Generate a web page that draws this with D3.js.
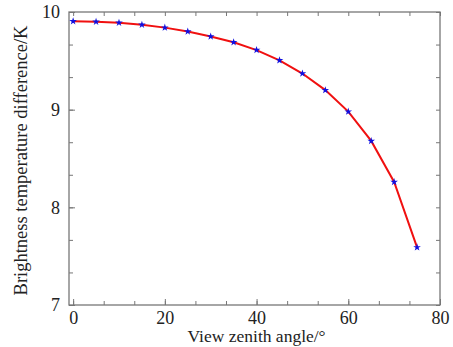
<!DOCTYPE html>
<html>
<head>
<meta charset="utf-8">
<script src="https://cdn.jsdelivr.net/npm/d3@7"></script>
<style>
  body { margin: 0; background: #fff; }
  text { font-family: "Liberation Serif", "Times New Roman", serif; fill: #222; }
</style>
</head>
<body>
<svg width="453" height="347"></svg>
<script>
// view zenith angle (deg) and brightness temperature difference (K)
var angles = [0, 5, 10, 15, 20, 25, 30, 35, 40, 45, 50, 55, 60, 65, 70, 75];
var btDiff = [9.905, 9.90, 9.89, 9.87, 9.84, 9.80, 9.75, 9.69, 9.61, 9.505, 9.37, 9.20, 8.98, 8.68, 8.26, 7.59];
var xTicks = [0, 20, 40, 60, 80];
var yTicks = [7, 8, 9, 10];

var svg = d3.select("svg"),
    margin = {top: 12, right: 13, bottom: 42, left: 69},
    width = +svg.attr("width") - margin.left - margin.right,
    height = +svg.attr("height") - margin.top - margin.bottom;

var x = d3.scaleLinear().domain([-0.9, 80]).range([0, width]);
var y = d3.scaleLinear().domain([7, 10]).range([height, 0]);

var g = svg.append("g")
    .attr("transform", "translate(" + margin.left + "," + margin.top + ")");

var axisColor = "#777";

// minor ticks: three intervals between labels
var xMinor = d3.range(0, 80.01, 20 / 3);
var yMinor = d3.range(7, 10.001, 1 / 3);

function styleAxis(sel) {
    sel.select(".domain").remove();
    sel.selectAll("line").attr("stroke", axisColor).attr("stroke-width", 1);
    sel.selectAll("text").style("font-size", "18px").attr("fill", "#222");
}

// minor tick marks (no labels)
g.append("g").attr("transform", "translate(0," + height + ")")
    .call(d3.axisBottom(x).tickValues(xMinor).tickSize(-4).tickFormat(""))
    .call(styleAxis);
g.append("g")
    .call(d3.axisTop(x).tickValues(xMinor).tickSize(-4).tickFormat(""))
    .call(styleAxis);
g.append("g")
    .call(d3.axisLeft(y).tickValues(yMinor).tickSize(-4).tickFormat(""))
    .call(styleAxis);
g.append("g").attr("transform", "translate(" + width + ",0)")
    .call(d3.axisRight(y).tickValues(yMinor).tickSize(-4).tickFormat(""))
    .call(styleAxis);

// labelled ticks
g.append("g").attr("transform", "translate(0," + height + ")")
    .call(d3.axisBottom(x).tickValues(xTicks).tickSize(-6).tickPadding(6).tickFormat(d3.format("d")))
    .call(styleAxis);
g.append("g")
    .call(d3.axisLeft(y).tickValues(yTicks).tickSize(-6).tickPadding(9).tickFormat(d3.format("d")))
    .call(styleAxis);

// frame
g.append("rect")
    .attr("width", width)
    .attr("height", height)
    .attr("fill", "none")
    .attr("stroke", axisColor)
    .attr("stroke-width", 1.3);

var pts = angles.map(function(a, i) { return [a, btDiff[i]]; });

g.append("path")
    .datum(pts)
    .attr("fill", "none")
    .attr("stroke", "#f01010")
    .attr("stroke-width", 2)
    .attr("d", d3.line()
        .x(function(d) { return x(d[0]); })
        .y(function(d) { return y(d[1]); }));

g.selectAll(".pt")
    .data(pts)
    .enter().append("path")
    .attr("class", "pt")
    .attr("transform", function(d) { return "translate(" + x(d[0]) + "," + y(d[1]) + ")"; })
    .attr("d", d3.symbol().type(d3.symbolStar).size(18))
    .attr("fill", "#1010e0");

// axis titles
svg.append("text")
    .attr("x", margin.left + x(40))
    .attr("y", 342)
    .attr("text-anchor", "middle")
    .style("font-size", "17.5px")
    .text("View zenith angle/\u00b0");

svg.append("text")
    .attr("transform", "translate(27," + (margin.top + height / 2 + 2) + ") rotate(-90)")
    .attr("text-anchor", "middle")
    .style("font-size", "18.5px")
    .text("Brightness temperature difference/K");
</script>
</body>
</html>
